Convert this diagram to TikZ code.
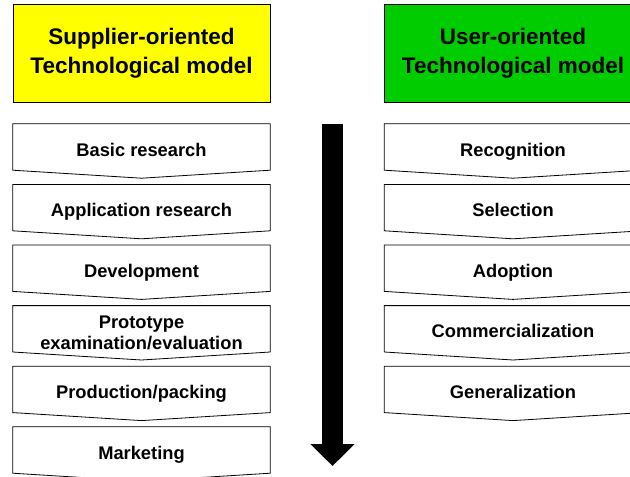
\documentclass[tikz,border=0pt]{standalone}
\usepackage{fontspec}
\setmainfont{Liberation Sans}
\usetikzlibrary{arrows.meta}

\definecolor{supyellow}{RGB}{255,255,0}
\definecolor{usergreen}{RGB}{0,204,0}

\tikzset{
  header/.style={draw=black, line width=0.8pt, minimum width=257pt, minimum height=98pt,
    inner sep=0pt, align=center, font=\fontsize{22.5}{29}\selectfont\bfseries},
  stepbox/.style={minimum width=257pt, minimum height=54pt, inner sep=0pt,
    text height=13.1pt, text depth=3.1pt,
    align=center, font=\fontsize{18.3}{21}\selectfont\bfseries},
  steppath/.style={draw=black, line width=0.8pt, line join=miter}
}

% chevron outline round a step node
\newcommand{\chevron}[1]{\draw[steppath] (#1.north west) -- (#1.north east)
  -- ([yshift=8pt]#1.south east) -- (#1.south) -- ([yshift=8pt]#1.south west) -- cycle;}

\begin{document}
\begin{tikzpicture}[x=1pt, y=-1pt]

\useasboundingbox (0,0) rectangle (630,477);
\clip (0,0) rectangle (630,477);

% headers
\node[header, fill=supyellow] (suphead) at (141.5, 53.5) {Supplier-oriented\\Technological model};
\node[header, fill=usergreen] (userhead) at (513, 53.5) {User-oriented\\Technological model};

% supplier steps
\node[stepbox] (basic) at (141.5, 151) {Basic research};
\chevron{basic}
\node[stepbox] (appl) at (141.5, 211.6) {Application research};
\chevron{appl}
\node[stepbox] (devel) at (141.5, 272.2) {Development};
\chevron{devel}
\node[stepbox, text height={}, text depth={}] (proto) at (141.5, 332.8) {Prototype\\examination/evaluation};
\chevron{proto}
\node[stepbox] (prod) at (141.5, 393.4) {Production/packing};
\chevron{prod}
\node[stepbox] (market) at (141.5, 454) {Marketing};
\chevron{market}

% user steps
\node[stepbox] (recog) at (513, 151) {Recognition};
\chevron{recog}
\node[stepbox] (select) at (513, 211.6) {Selection};
\chevron{select}
\node[stepbox] (adopt) at (513, 272.2) {Adoption};
\chevron{adopt}
\node[stepbox] (comm) at (513, 332.8) {Commercialization};
\chevron{comm}
\node[stepbox] (general) at (513, 393.4) {Generalization};
\chevron{general}

% big arrow
\coordinate (arrtop) at (332.5, 124);
\coordinate (arrtip) at (332.5, 466);
\draw[line width=21pt, -{Triangle[width=43pt, length=22pt]}] (arrtop) -- (arrtip);

\end{tikzpicture}
\end{document}
